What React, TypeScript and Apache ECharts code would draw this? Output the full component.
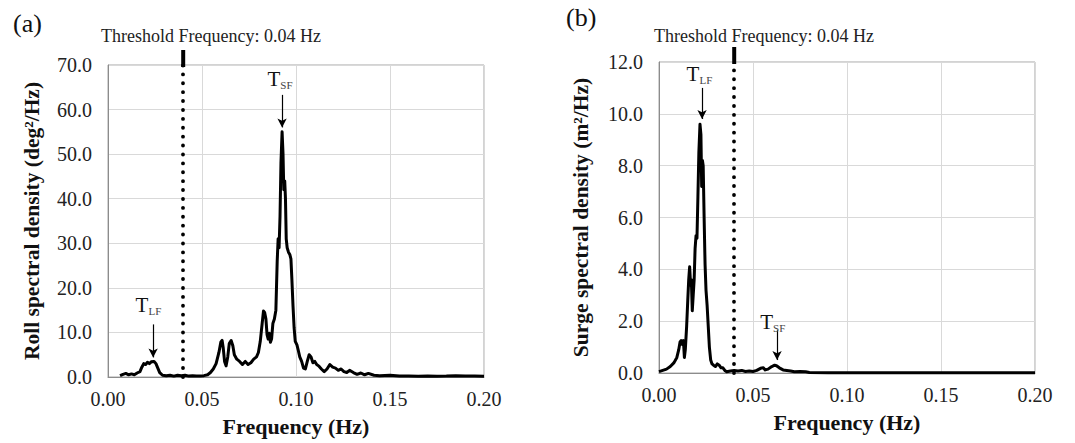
import React, { useEffect, useRef } from "react";
import * as echarts from "echarts";

const thresholdFreq = 0.04;

const rollFreq = [
  0.0064, 0.008, 0.0095, 0.011, 0.0125, 0.014, 0.0155, 0.017, 0.018, 0.019,
  0.02, 0.021, 0.022, 0.023, 0.0245, 0.0255, 0.0265, 0.0275, 0.029, 0.031,
  0.033, 0.035, 0.037, 0.039, 0.041, 0.043, 0.045, 0.047, 0.049, 0.051,
  0.053, 0.0545, 0.056, 0.0575, 0.059, 0.06, 0.0607, 0.0613, 0.062, 0.0628,
  0.0637, 0.0645, 0.0655, 0.0664, 0.0672, 0.0685, 0.07, 0.0715, 0.073, 0.0745,
  0.076, 0.0775, 0.079, 0.08, 0.081, 0.082, 0.0827, 0.0833, 0.084, 0.0846,
  0.0852, 0.0858, 0.0864, 0.087, 0.0877, 0.0885, 0.0893, 0.09, 0.0905, 0.091,
  0.0915, 0.092, 0.0926, 0.0931, 0.0935, 0.094, 0.0944, 0.0948, 0.0953, 0.096,
  0.0967, 0.0973, 0.0978, 0.0984, 0.099, 0.0996, 0.1005, 0.1012, 0.102, 0.103,
  0.104, 0.105, 0.106, 0.107, 0.108, 0.109, 0.11, 0.111, 0.112, 0.1135,
  0.115, 0.1165, 0.118, 0.1195, 0.121, 0.1225, 0.124, 0.1255, 0.127, 0.1285,
  0.1305, 0.1325, 0.1345, 0.1365, 0.1385, 0.1415, 0.1445, 0.15, 0.155, 0.16,
  0.165, 0.17, 0.175, 0.18, 0.185, 0.19, 0.195, 0.2,
];
const rollPsd = [
  0.3, 0.6, 0.8, 0.5, 0.7, 0.5, 0.9, 1.2, 2.2, 3.0,
  2.8, 3.3, 3.0, 3.4, 3.5, 3.0, 2.0, 1.0, 0.4, 0.3,
  0.4, 0.2, 0.4, 0.3, 0.4, 0.2, 0.3, 0.2, 0.2, 0.3,
  0.5, 1.0, 1.8, 3.0, 5.5, 7.8, 8.2, 6.5, 3.5, 2.5,
  4.5, 7.5, 8.2, 7.0, 5.0, 4.0, 3.5, 2.8, 3.5, 2.8,
  3.2, 4.0, 4.5, 5.5, 8.0, 12.0, 14.8, 14.5, 13.0, 9.5,
  8.5, 9.8, 7.8, 8.5, 12.0, 13.0, 15.0, 26.0, 31.0, 29.0,
  36.0, 48.0, 55.0, 50.0, 42.0, 44.0, 40.0, 31.0, 29.0, 28.0,
  27.5, 26.5, 22.0, 16.0, 11.0, 8.0, 7.2, 6.0, 4.5, 3.5,
  2.0, 1.8, 3.5, 5.0, 4.5, 3.2, 3.5, 2.8, 2.5, 1.8,
  1.2, 1.8, 2.8, 2.2, 2.0, 1.5, 1.8, 1.2, 1.0, 1.5,
  1.0, 0.6, 0.9, 0.5, 0.8, 0.4, 0.3, 0.4, 0.2, 0.2,
  0.15, 0.2, 0.15, 0.2, 0.3, 0.2, 0.2, 0.15,
];

const surgeFreq = [
  0.0, 0.002, 0.004, 0.006, 0.008, 0.0095, 0.0105, 0.0112, 0.0118, 0.0124,
  0.013, 0.0135, 0.014, 0.0147, 0.0153, 0.0158, 0.0163, 0.0168, 0.0172, 0.0177,
  0.0182, 0.0187, 0.0192, 0.0197, 0.0202, 0.0207, 0.0212, 0.0218, 0.0223, 0.0227,
  0.0231, 0.0235, 0.024, 0.0245, 0.025, 0.0256, 0.0262, 0.0268, 0.0275, 0.0282,
  0.029, 0.03, 0.031, 0.032, 0.033, 0.034, 0.035, 0.036, 0.038, 0.04,
  0.042, 0.044, 0.046, 0.048, 0.05, 0.052, 0.054, 0.0555, 0.0565, 0.058,
  0.06, 0.0615, 0.0625, 0.064, 0.066, 0.068, 0.07, 0.072, 0.075, 0.078,
  0.08, 0.09, 0.1, 0.15, 0.2,
];
const surgePsd = [
  0.05, 0.1, 0.15, 0.25, 0.4, 0.6, 0.9, 1.2, 1.25, 1.1,
  1.25, 0.6, 0.9, 1.8, 2.8, 3.6, 4.1, 3.4, 3.6, 2.4,
  3.0, 3.6, 4.8, 5.3, 5.2, 6.8, 8.5, 9.6, 9.2, 7.2,
  8.2, 8.0, 6.0, 4.2, 3.2, 2.6, 1.8, 1.0, 0.5, 0.35,
  0.3, 0.25, 0.35, 0.3, 0.2, 0.2, 0.1, 0.05, 0.08, 0.1,
  0.08, 0.1, 0.06, 0.08, 0.06, 0.1, 0.18, 0.2, 0.12, 0.15,
  0.25, 0.3, 0.28, 0.2, 0.12, 0.1, 0.08, 0.05, 0.06, 0.05,
  0.02, 0.01, 0.01, 0.01, 0.01,
];

// annotation positions in data units: label [freq, value], arrow [freq, from, to]
const rollLF = { label: [0.0215, 16.2], arrow: [0.024, 11.8, 4.4] };
const rollSF = { label: [0.0915, 66.8], arrow: [0.0926, 63.3, 56.0] };
const surgeLF = { label: [0.0215, 11.55], arrow: [0.0229, 11.0, 9.8] };
const surgeSF = { label: [0.0605, 1.95], arrow: [0.0628, 1.65, 0.5] };

const FONT = "Liberation Serif";

function makeSeries(
  freq: number[],
  psd: number[],
  yMax: number,
  gridIndex: number,
  ann: any[]
) {
  return {
    type: "line",
    xAxisIndex: gridIndex,
    yAxisIndex: gridIndex,
    data: freq.map((f, i) => [f, psd[i]]),
    showSymbol: false,
    symbol: "none",
    lineStyle: { color: "#000", width: 3, join: "round" },
    clip: false,
    z: 3,
    markLine: {
      silent: true,
      animation: false,
      symbolSize: [7, 9],
      label: { show: false },
      data: [
        [
          {
            coord: [thresholdFreq, 0],
            symbol: "none",
            lineStyle: { color: "#000", width: 3.8, type: [0.1, 8.8], cap: "round" },
          },
          { coord: [thresholdFreq, yMax], symbol: "none" },
        ],
        ...ann.map((a) => [
          {
            coord: [a.a.arrow[0], a.a.arrow[1]],
            symbol: "none",
            lineStyle: { color: "#000", width: 1.2, type: "solid" },
          },
          { coord: [a.a.arrow[0], a.a.arrow[2]], symbol: "arrow" },
        ]),
      ],
    },
    markPoint: {
      silent: true,
      animation: false,
      symbol: "circle",
      symbolSize: 1,
      itemStyle: { color: "rgba(0,0,0,0)" },
      data: ann.map((a) => ({
        coord: a.a.label,
        label: {
          show: true,
          position: "inside",
          formatter: "{t|T}{s|" + a.sub + "}",
          rich: {
            t: { fontFamily: FONT, fontSize: 21, color: "#111" },
            s: { fontFamily: FONT, fontSize: 11, color: "#444", padding: [12, 0, 0, 0] },
          },
        },
      })),
    },
  };
}

function axisX(gridIndex: number) {
  return {
    type: "value",
    gridIndex,
    min: 0,
    max: 0.2,
    interval: 0.05,
    name: "Frequency (Hz)",
    nameLocation: "middle",
    nameGap: 38,
    nameTextStyle: { fontFamily: FONT, fontSize: 22, fontWeight: "bold", color: "#111" },
    axisLine: { show: true, onZero: false, lineStyle: { color: "#8c8c8c", width: 1 } },
    axisTick: { show: false },
    axisLabel: {
      fontFamily: FONT,
      fontSize: 20,
      color: "#222",
      margin: 12,
      formatter: (v: number) => v.toFixed(2),
    },
    splitLine: { show: true, lineStyle: { color: "#d9d9d9", width: 1 } },
  };
}

function axisY(gridIndex: number, max: number, interval: number, name: string, gap: number) {
  return {
    type: "value",
    gridIndex,
    min: 0,
    max,
    interval,
    name,
    nameLocation: "middle",
    nameGap: gap,
    nameTextStyle: { fontFamily: FONT, fontSize: 21.5, fontWeight: "bold", color: "#111" },
    axisLine: { show: true, lineStyle: { color: "#8c8c8c", width: 1 } },
    axisTick: { show: false },
    axisLabel: {
      fontFamily: FONT,
      fontSize: 20,
      color: "#222",
      margin: 16,
      formatter: (v: number) => v.toFixed(1),
    },
    splitLine: { show: true, lineStyle: { color: "#d9d9d9", width: 1 } },
  };
}

export default function App() {
  const ref = useRef<HTMLDivElement>(null);
  useEffect(() => {
    if (!ref.current) return;
    const chart = echarts.init(ref.current, undefined, { renderer: "svg" });
    const option: any = {
      animation: false,
      backgroundColor: "#fff",
      title: [
        { text: "(a)", left: 8, top: 5, textStyle: { fontFamily: FONT, fontSize: 26, fontWeight: "normal", color: "#111" } },
        { text: "(b)", left: 561, top: -1, textStyle: { fontFamily: FONT, fontSize: 26, fontWeight: "normal", color: "#111" } },
        { text: "Threshold Frequency: 0.04 Hz", left: 96, top: 22, textStyle: { fontFamily: FONT, fontSize: 18, fontWeight: "normal", color: "#222" } },
        { text: "Threshold Frequency: 0.04 Hz", left: 649, top: 22, textStyle: { fontFamily: FONT, fontSize: 18, fontWeight: "normal", color: "#222" } },
      ],
      grid: [
        { left: 108, top: 65, width: 376, height: 312, show: true, borderColor: "#a6a6a6", borderWidth: 1, backgroundColor: "transparent" },
        { left: 659, top: 62, width: 376, height: 311, show: true, borderColor: "#a6a6a6", borderWidth: 1, backgroundColor: "transparent" },
      ],
      xAxis: [axisX(0), axisX(1)],
      yAxis: [
        axisY(0, 70, 10, "Roll spectral density (deg²/Hz)", 65),
        axisY(1, 12, 2, "Surge spectral density (m²/Hz)", 67),
      ],
      series: [
        makeSeries(rollFreq, rollPsd, 70, 0, [
          { a: rollLF, sub: "LF" },
          { a: rollSF, sub: "SF" },
        ]),
        makeSeries(surgeFreq, surgePsd, 12, 1, [
          { a: surgeLF, sub: "LF" },
          { a: surgeSF, sub: "SF" },
        ]),
      ],
    };
    chart.setOption(option);
    // thick solid tick above each plot at the threshold frequency
    const tops = [
      chart.convertToPixel({ gridIndex: 0 } as any, [thresholdFreq, 70]) as number[],
      chart.convertToPixel({ gridIndex: 1 } as any, [thresholdFreq, 12]) as number[],
    ];
    chart.setOption({
      graphic: tops.map((p) => ({
        type: "line",
        shape: { x1: p[0], y1: p[1] + 2, x2: p[0], y2: p[1] - 15 },
        style: { stroke: "#000", lineWidth: 4 },
        z: 10,
      })),
    });
    return () => chart.dispose();
  }, []);
  return (
    <div
      ref={ref}
      style={{ position: "fixed", left: 0, top: 0, width: 1075, height: 443, background: "#fff" }}
    />
  );
}
